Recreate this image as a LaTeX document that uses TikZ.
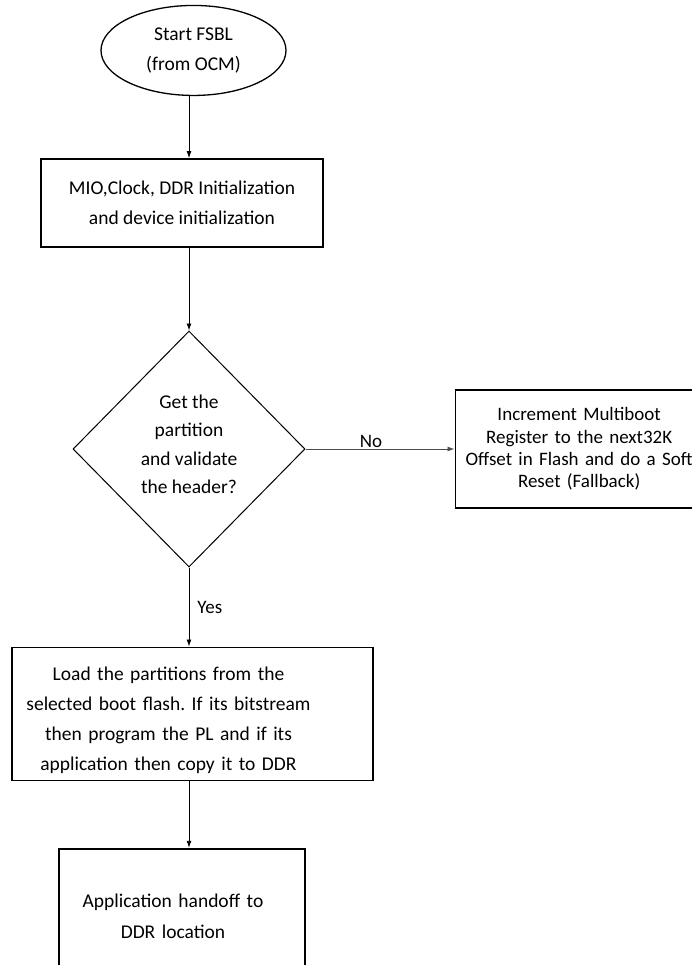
\documentclass[tikz,border=0pt]{standalone}
\usepackage{fontspec}
\setmainfont{Carlito}
\usetikzlibrary{positioning,arrows.meta,shapes.geometric}

\begin{document}
\frenchspacing
\begin{tikzpicture}[
			x=1pt, y=-1pt,
			node distance=60pt,
			startnode/.style={ellipse, draw, line width=1.3pt, minimum width=185pt, minimum height=90pt, inner sep=0pt, align=center, font=\fontsize{19.5}{30}\selectfont},
			procbox/.style={rectangle, draw, line width=1.3pt, inner sep=0pt, font=\fontsize{19.5}{30}\selectfont},
			thickbox/.style={procbox, line width=2.4pt},
			decision/.style={diamond, draw, line width=1pt, minimum width=232pt, minimum height=236pt, inner sep=0pt, align=center, font=\fontsize{19.5}{28.3}\selectfont},
			arrow/.style={->, >={Latex[length=7pt,width=5pt]}, line width=0.9pt},
			answer/.style={font=\fontsize{19}{22}\selectfont}
			]
			\clip (0,0) rectangle (692,965);
			
			% Decision: header check
			\node[decision] (check) at (189,449) {Get the\\partition\\and validate\\the header?\\[-19pt]};
			
			% Init box
			\node[thickbox, align=center, minimum width=282pt, minimum height=88pt, above=82pt of check, xshift=-7pt] (init) {MIO,Clock, DDR Initialization\\and device initialization};
			
			% Start
			\node[startnode, above=62pt of init, xshift=11.5pt] (start) {Start FSBL\\(from OCM)};
			
			% Fallback box
			\node[procbox, align=center, text width=248pt, minimum height=118pt, right=149pt of check, font=\fontsize{19}{22.3}\selectfont] (fallback) {Increment Multiboot\\Register to the next32K\\Offset in Flash and do a Soft\\Reset (Fallback)\\[-4pt]};
			
			% Load partitions
			\node[procbox, text width=361pt, text height=26pt, minimum height=133pt, below=79pt of check, xshift=3.5pt] (load) {\parindent=0pt\leftskip=0pt plus 1fil\rightskip=48pt plus 1fil\parfillskip=0pt
				Load the partitions from the\par selected boot flash. If its bitstream\par then program the PL and if its\par application then copy it to DDR\par};
			
			% Handoff
			\node[thickbox, text width=246pt, minimum height=135pt, below=67pt of load, xshift=-10.5pt, font=\fontsize{19.5}{31}\selectfont] (handoff) {\parindent=0pt\leftskip=0pt plus 1fil\rightskip=18pt plus 1fil\parfillskip=0pt
				Application handoff to\par DDR location\par};
			
			% Arrows
			\draw[arrow] (start.south -| check.north) -- (init.north -| check.north);
			\draw[arrow] (init.south -| check.north) -- (check.north);
			\draw[arrow, color=black!70] (check.east) -- node[answer, pos=0.44, above, inner sep=1pt, text=black] (no) {No} (fallback.west);
			\draw[arrow] (check.south) -- node[answer, right, inner sep=8pt] (yes) {Yes} (load.north -| check.south);
			\draw[arrow] (load.south -| check.south) -- (handoff.north -| check.south);
			
		\end{tikzpicture}
\end{document}
